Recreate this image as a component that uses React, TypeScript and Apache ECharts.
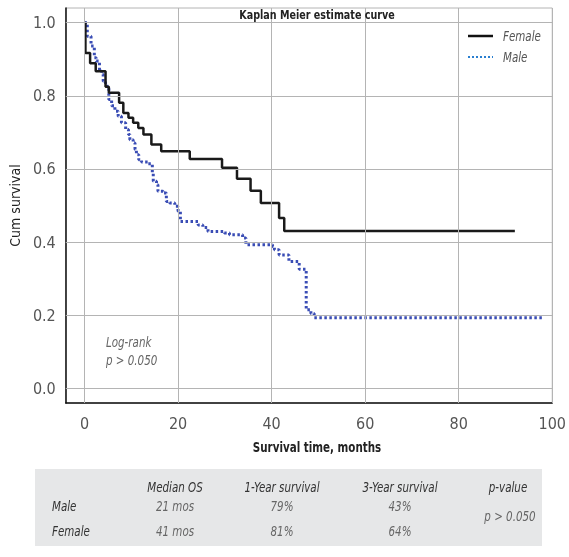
import React, { useEffect, useRef } from "react";
import * as echarts from "echarts";

const femaleTimes = [0, 0.2, 1.2, 2.4, 4.5, 5.2, 7.4, 8.3, 9.4, 10.4, 11.5, 12.6, 14.3, 16.4, 22.5, 29.4, 32.6, 35.5, 37.7, 41.6, 42.7, 92];
const femaleSurv = [1.0, 0.917, 0.889, 0.867, 0.825, 0.808, 0.781, 0.753, 0.74, 0.726, 0.712, 0.694, 0.667, 0.648, 0.627, 0.603, 0.573, 0.54, 0.507, 0.466, 0.43, 0.43];

const maleTimes = [0, 0.6, 1.4, 2.1, 2.5, 3.2, 3.7, 4.0, 4.5, 5.2, 5.8, 6.5, 7.2, 7.9, 8.8, 9.4, 9.7, 10.4, 10.8, 11.1, 11.6, 12.2, 13.6, 14.5, 14.7, 15.4, 15.7, 16.8, 17.5, 18.2, 19.3, 20.0, 20.5, 24.3, 25.3, 26.4, 29.9, 31.0, 33.8, 34.5, 40.2, 40.6, 41.6, 43.7, 45.9, 47.4, 48.4, 49.1, 98];
const maleSurv = [1.0, 0.963, 0.936, 0.904, 0.895, 0.867, 0.858, 0.84, 0.826, 0.79, 0.773, 0.758, 0.744, 0.726, 0.708, 0.694, 0.68, 0.671, 0.653, 0.639, 0.625, 0.619, 0.614, 0.589, 0.566, 0.557, 0.539, 0.534, 0.511, 0.507, 0.498, 0.484, 0.456, 0.447, 0.44, 0.429, 0.425, 0.42, 0.411, 0.393, 0.388, 0.379, 0.365, 0.347, 0.326, 0.215, 0.205, 0.193, 0.193];

const xTicks = [0, 20, 40, 60, 80, 100];
const yTicks = [0, 0.2, 0.4, 0.6, 0.8, 1.0];

const tableHeaders = ["Median OS", "1-Year survival", "3-Year survival", "p-value"];
const tableRows = ["Male", "Female"];
const medianOS = ["21 mos", "41 mos"];
const oneYear = ["79%", "81%"];
const threeYear = ["43%", "64%"];
const pValue = "p > 0.050";

const FONT = "'Liberation Sans Narrow', 'DejaVu Sans Condensed', 'Roboto', sans-serif";

export default function App() {
  const ref = useRef<HTMLDivElement>(null);
  useEffect(() => {
    if (!ref.current) return;
    const chart = echarts.init(ref.current, undefined, { renderer: "svg" });
    const female = femaleTimes.map((t, i) => [t, femaleSurv[i]]);
    const male = maleTimes.map((t, i) => [t, maleSurv[i]]);
    const colX = [175, 282, 400, 508];
    const rowY = [506, 531];
    const gray = "#666";
    const dark = "#333";
    const sx = 0.82;
    const txt = (x: number, y: number, text: string, font: string, fill: string, align = "left") => ({
      type: "text",
      x,
      y,
      scaleX: sx,
      z: 10,
      style: { text, font, fill, align, verticalAlign: "middle" },
    });
    const graphics: any[] = [
      txt(317, 15, "Kaplan Meier estimate curve", `600 13px ${FONT}`, "#222", "center"),
      { type: "line", shape: { x1: 468, y1: 36, x2: 493, y2: 36 }, style: { stroke: "#111", lineWidth: 2.5 } },
      txt(503, 36, "Female", `italic 14px ${FONT}`, "#555"),
      { type: "line", shape: { x1: 468, y1: 57, x2: 493, y2: 57 }, style: { stroke: "#2a7fd0", lineWidth: 2, lineDash: [2, 2] } },
      txt(503, 57, "Male", `italic 14px ${FONT}`, "#555"),
      txt(106, 342, "Log-rank", `italic 14px ${FONT}`, gray),
      txt(106, 360, "p > 0.050", `italic 14px ${FONT}`, gray),
      txt(317, 447, "Survival time, months", `bold 14px ${FONT}`, "#222", "center"),
      { type: "rect", shape: { x: 35, y: 469, width: 507, height: 77 }, style: { fill: "#e6e7e8" }, z: 0 },
    ];
    tableHeaders.forEach((h, i) => {
      graphics.push(txt(colX[i], 487, h, `italic 14px ${FONT}`, dark, "center"));
    });
    tableRows.forEach((r, j) => {
      graphics.push(txt(52, rowY[j], r, `italic 14px ${FONT}`, dark));
      graphics.push(txt(colX[0], rowY[j], medianOS[j], `italic 14px ${FONT}`, gray, "center"));
      graphics.push(txt(colX[1], rowY[j], oneYear[j], `italic 14px ${FONT}`, gray, "center"));
      graphics.push(txt(colX[2], rowY[j], threeYear[j], `italic 14px ${FONT}`, gray, "center"));
    });
    graphics.push(txt(510, 516, pValue, `italic 14px ${FONT}`, gray, "center"));

    const isTick = (v: number, arr: number[]) => arr.some((t) => Math.abs(t - v) < 1e-6);

    chart.setOption({
      animation: false,
      grid: { left: 63, top: 8, right: 16, bottom: 154, show: true, borderColor: "#b4b4b4", borderWidth: 1 },
      xAxis: {
        type: "value",
        min: -4,
        max: 100,
        interval: 4,
        axisLine: { show: true, onZero: false, lineStyle: { color: "#111", width: 1.5 } },
        axisTick: { show: false },
        splitLine: { show: false },
        axisLabel: {
          margin: 12,
          fontSize: 16,
          color: "#555",
          fontFamily: FONT,
          formatter: (v: number) => (isTick(v, xTicks) ? String(Math.round(v)) : ""),
        },
      },
      yAxis: {
        type: "value",
        min: -0.04,
        max: 1.04,
        interval: 0.02,
        name: "Cum survival",
        nameLocation: "middle",
        nameGap: 42,
        nameTextStyle: { fontSize: 14, color: "#222", fontFamily: FONT },
        axisLine: { show: true, onZero: false, lineStyle: { color: "#111", width: 1.5 } },
        axisTick: { show: false },
        splitLine: { show: false },
        axisLabel: {
          margin: 10,
          fontSize: 16,
          color: "#555",
          fontFamily: FONT,
          formatter: (v: number) => (isTick(v, yTicks) ? (Math.round(v * 10) / 10).toFixed(1) : ""),
        },
      },
      graphic: graphics,
      series: [
        {
          type: "line",
          data: [],
          z: 1,
          silent: true,
          markLine: {
            silent: true,
            symbol: "none",
            label: { show: false },
            lineStyle: { color: "#b4b4b4", width: 1, type: "solid" },
            data: [
              ...xTicks.map((v) => ({ xAxis: v })),
              ...yTicks.map((v) => ({ yAxis: v })),
            ],
          },
        },
        {
          name: "Female",
          type: "line",
          step: "end",
          data: female,
          showSymbol: false,
          z: 4,
          lineStyle: { color: "#1a1a1a", width: 2.5 },
        },
        {
          name: "Male",
          type: "line",
          step: "end",
          data: male,
          showSymbol: false,
          z: 3,
          lineStyle: { color: "#3a4db5", width: 3, type: [2.5, 2.5] },
        },
      ],
    });
    return () => chart.dispose();
  }, []);
  return <div ref={ref} style={{ position: "fixed", left: 0, top: 0, width: 569, height: 557 }} />;
}
